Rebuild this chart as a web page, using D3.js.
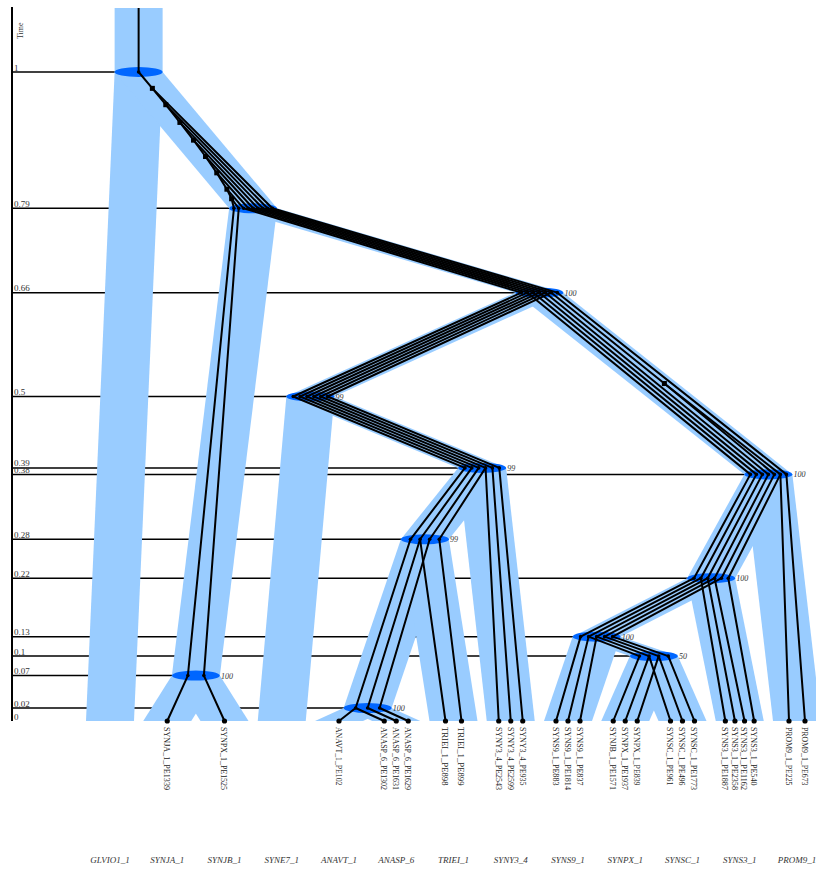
<!DOCTYPE html>
<html>
<head>
<meta charset="utf-8">
<script src="https://cdn.jsdelivr.net/npm/d3@7"></script>
<style>
  body { margin: 0; background: #fff; }
  text { font-family: "Liberation Serif", "DejaVu Serif", serif; }
</style>
</head>
<body>
<div id="container"></div>
<script>
let width = 816;
let height = 871;

// species tree (internal nodes named R, A..K)
let speciesNewick = "(GLVIO1_1,((SYNJA_1,SYNJB_1)B,((SYNE7_1,(((ANAVT_1,ANASP_6)G,TRIEI_1)F,SYNY3_4)E)D,(((SYNS9_1,(SYNPX_1,SYNSC_1)K)J,SYNS3_1)I,PROM9_1)H)C)A)R";
let speciesNodes = ['R', 'A', 'B', 'C', 'D', 'E', 'F', 'G', 'H', 'I', 'J', 'K'];
let speciesTimes = [1, 0.79, 0.07, 0.66, 0.5, 0.39, 0.28, 0.02, 0.38, 0.22, 0.13, 0.1];
let speciesSupport = ['', '', '100', '100', '99', '99', '99', '100', '100', '100', '100', '50'];
let timeTicks = [1, 0.79, 0.66, 0.5, 0.39, 0.38, 0.28, 0.22, 0.13, 0.1, 0.07, 0.02, 0];

// gene tree: id, parent, species node, duplication position on the branch above it
let geneRows = [
    ['root', null, 'R'],
    ['d1', 'root', 'A', 0.12], ['d2', 'd1', 'A', 0.24], ['d3', 'd2', 'A', 0.37],
    ['d4', 'd3', 'A', 0.5], ['d5', 'd4', 'A', 0.62], ['d6', 'd5', 'A', 0.74],
    ['d7', 'd6', 'A', 0.86], ['d8', 'd7', 'A', 0.93],
    ['1A', 'd8', 'A'], ['1B', '1A', 'B'], ['SYNJA_1_PE1339', '1B', 'SYNJA_1'],
    ['2A', 'd8', 'A'], ['2B', '2A', 'B'], ['SYNPX_1_PE1525', '2B', 'SYNJB_1'],
    ['3A', 'd7', 'A'], ['3C', '3A', 'C'], ['3D', '3C', 'D'], ['3E', '3D', 'E'], ['3F', '3E', 'F'], ['3G', '3F', 'G'],
    ['ANAVT_1_PE102', '3G', 'ANAVT_1'], ['ANASP_6_PE1302', '3G', 'ANASP_6'],
    ['4A', 'd6', 'A'], ['4C', '4A', 'C'], ['4D', '4C', 'D'], ['4E', '4D', 'E'], ['4F', '4E', 'F'], ['4G', '4F', 'G'],
    ['ANASP_6_PE1631', '4G', 'ANASP_6'], ['TRIEI_1_PE898', '4F', 'TRIEI_1'],
    ['4H', '4C', 'H'], ['4I', '4H', 'I'], ['4J', '4I', 'J'], ['SYNS9_1_PE883', '4J', 'SYNS9_1'],
    ['5A', 'd5', 'A'], ['5C', '5A', 'C'], ['5D', '5C', 'D'], ['5E', '5D', 'E'], ['5F', '5E', 'F'], ['5G', '5F', 'G'],
    ['ANASP_6_PE1629', '5G', 'ANASP_6'],
    ['5H', '5C', 'H'], ['5I', '5H', 'I'], ['5J', '5I', 'J'], ['SYNS9_1_PE1814', '5J', 'SYNS9_1'],
    ['5K', '5J', 'K'], ['SYNJB_1_PE1571', '5K', 'SYNPX_1'], ['SYNS3_1_PE1887', '5I', 'SYNS3_1'],
    ['6A', 'd4', 'A'], ['6C', '6A', 'C'], ['6D', '6C', 'D'], ['6E', '6D', 'E'], ['6F', '6E', 'F'],
    ['TRIEI_1_PE899', '6F', 'TRIEI_1'], ['SYNY3_4_PE2543', '6E', 'SYNY3_4'],
    ['6H', '6C', 'H'], ['6I', '6H', 'I'], ['6J', '6I', 'J'], ['SYNS9_1_PE837', '6J', 'SYNS9_1'],
    ['6K', '6J', 'K'], ['SYNPX_1_PE1937', '6K', 'SYNPX_1'], ['SYNSC_1_PE961', '6K', 'SYNSC_1'],
    ['SYNS3_1_PE2358', '6I', 'SYNS3_1'],
    ['7A', 'd3', 'A'], ['7C', '7A', 'C'], ['7D', '7C', 'D'], ['7E', '7D', 'E'], ['SYNY3_4_PE2599', '7E', 'SYNY3_4'],
    ['7H', '7C', 'H'], ['7I', '7H', 'I'], ['7J', '7I', 'J'], ['7K', '7J', 'K'],
    ['SYNPX_1_PE839', '7K', 'SYNPX_1'], ['SYNSC_1_PE496', '7K', 'SYNSC_1'], ['SYNS3_1_PE1162', '7I', 'SYNS3_1'],
    ['8A', 'd2', 'A'], ['8C', '8A', 'C'], ['8D', '8C', 'D'], ['8E', '8D', 'E'], ['SYNY3_4_PE935', '8E', 'SYNY3_4'],
    ['d9', '8C', 'H', 0.5],
    ['8aH', 'd9', 'H'], ['8aI', '8aH', 'I'], ['8aJ', '8aI', 'J'], ['8aK', '8aJ', 'K'], ['SYNSC_1_PE1773', '8aK', 'SYNSC_1'],
    ['8bH', 'd9', 'H'], ['8bI', '8bH', 'I'], ['SYNS3_1_PE540', '8bI', 'SYNS3_1'], ['PROM9_1_PE225', '8bH', 'PROM9_1'],
    ['9A', 'd1', 'A'], ['9C', '9A', 'C'], ['9H', '9C', 'H'], ['PROM9_1_PE673', '9H', 'PROM9_1']
];

let tubeHalf = 24;
let tubeColor = '#99ccff';
let nodeColor = '#0066ff';
let topY = 8;

function parseNewick(s) {
    let i = 0;
    function node() {
        let n = { children: [] };
        if (s[i] == '(') {
            i++;
            n.children.push(node());
            while (s[i] == ',') { i++; n.children.push(node()); }
            i++;
        }
        let j = i;
        while (i < s.length && !',();'.includes(s[i])) i++;
        n.name = s.slice(j, i);
        if (!n.children.length) delete n.children;
        return n;
    }
    return node();
}

let svg = d3.select("#container")
    .append("svg")
    .attr("width", width)
    .attr("height", height);

let sp = d3.hierarchy(parseNewick(speciesNewick));
let spLeaves = sp.leaves();

let x = d3.scaleLinear().domain([0, spLeaves.length - 1]).range([110, 797]);
let y = d3.scaleLinear().domain([0, 1]).range([721, 72]);

spLeaves.forEach((d, i) => { d.slot = i; d.lo = i; d.hi = i; });
sp.eachAfter(d => {
    if (d.children) {
        d.lo = d.children[0].lo;
        d.hi = d.children[1].hi;
        d.slot = (d.children[0].hi + d.children[1].lo) / 2;
    }
});
let spByName = {};
sp.each(d => {
    let k = speciesNodes.indexOf(d.data.name);
    d.t = k >= 0 ? speciesTimes[k] : 0;
    d.support = k >= 0 ? speciesSupport[k] : '';
    d.x = x(d.slot);
    d.y = y(d.t);
    spByName[d.data.name] = d;
});

// time axis
svg.append('line')
    .attr('x1', 12).attr('x2', 12)
    .attr('y1', topY - 1).attr('y2', y(0))
    .attr('stroke', '#000').attr('stroke-width', 2);

svg.selectAll('.timeLine')
    .data(sp.descendants().filter(d => d.children))
    .enter()
    .append('line')
    .attr('class', 'timeLine')
    .attr('x1', 12).attr('x2', d => d.x)
    .attr('y1', d => d.y).attr('y2', d => d.y)
    .attr('stroke', '#000').attr('stroke-width', 1.5);

svg.selectAll('.tick')
    .data(timeTicks)
    .enter()
    .append('text')
    .attr('class', 'tick')
    .attr('x', 14)
    .attr('y', d => y(d) - 1.5)
    .attr('font-size', 9)
    .attr('fill', '#333')
    .text(d => d);

svg.append('text')
    .attr('transform', 'translate(23,39) rotate(-90)')
    .attr('font-size', 8)
    .attr('fill', '#333')
    .text('Time');

// species tubes
svg.append('rect')
    .attr('x', sp.x - tubeHalf).attr('y', topY)
    .attr('width', tubeHalf * 2).attr('height', sp.y - topY)
    .attr('fill', tubeColor);

svg.selectAll('.tube')
    .data(sp.descendants().filter(d => d.parent))
    .enter()
    .append('polygon')
    .attr('class', 'tube')
    .attr('fill', tubeColor)
    .attr('points', d => {
        let p = d.parent;
        return [[p.x - tubeHalf, p.y], [p.x + tubeHalf, p.y],
                [d.x + tubeHalf, d.y], [d.x - tubeHalf, d.y]].join(' ');
    });

svg.selectAll('.spNode')
    .data(sp.descendants().filter(d => d.children))
    .enter()
    .append('ellipse')
    .attr('class', 'spNode')
    .attr('cx', d => d.x).attr('cy', d => d.y)
    .attr('rx', tubeHalf).attr('ry', 5)
    .attr('fill', nodeColor);

svg.selectAll('.support')
    .data(sp.descendants().filter(d => d.support))
    .enter()
    .append('text')
    .attr('class', 'support')
    .attr('x', d => d.x + tubeHalf + 1)
    .attr('y', d => d.y + 3)
    .attr('font-size', 8)
    .attr('font-style', 'italic')
    .attr('fill', '#333')
    .text(d => d.support);

svg.selectAll('.spLabel')
    .data(spLeaves)
    .enter()
    .append('text')
    .attr('class', 'spLabel')
    .attr('x', d => d.x)
    .attr('y', 863)
    .attr('text-anchor', 'middle')
    .attr('font-size', 9)
    .attr('font-style', 'italic')
    .attr('fill', '#333')
    .text(d => d.data.name);

// gene tree
let gene = d3.stratify()
    .id(d => d[0])
    .parentId(d => d[1])(geneRows);

let order = [];
gene.eachBefore(d => order.push(d));

let counts = {};
order.forEach(d => {
    if (d.data[3] == null) {
        let s = d.data[2];
        d.idx = counts[s] || 0;
        counts[s] = d.idx + 1;
    }
});
order.forEach(d => {
    if (d.data[3] == null) {
        let s = spByName[d.data[2]];
        let n = counts[d.data[2]];
        d.x = s.x - tubeHalf + (d.idx + 1) * tubeHalf * 2 / (n + 1);
        d.y = s.y;
    }
});

function targets(d) {
    return d.children.flatMap(c => c.data[3] == null ? [c] : targets(c));
}
order.forEach(d => {
    if (d.data[3] != null) {
        let s = spByName[d.data[2]];
        let p = s.parent;
        d.y = y(p.t + d.data[3] * (s.t - p.t));
        let tx = d3.mean(targets(d), c => c.x);
        let par = d.parent;
        d.x = par.x + (tx - par.x) * (d.y - par.y) / (s.y - par.y);
    }
});

svg.append('line')
    .attr('x1', gene.x).attr('x2', gene.x)
    .attr('y1', topY).attr('y2', gene.y)
    .attr('stroke', '#000').attr('stroke-width', 2);

svg.selectAll('.geneLink')
    .data(gene.links())
    .enter()
    .append('line')
    .attr('class', 'geneLink')
    .attr('x1', d => d.source.x).attr('y1', d => d.source.y)
    .attr('x2', d => d.target.x).attr('y2', d => d.target.y)
    .attr('stroke', '#000').attr('stroke-width', 2)
    .attr('stroke-linecap', 'round');

svg.selectAll('.geneSpec')
    .data(order.filter(d => d.children && d.data[3] == null))
    .enter()
    .append('circle')
    .attr('class', 'geneSpec')
    .attr('cx', d => d.x).attr('cy', d => d.y)
    .attr('r', 1.8)
    .attr('fill', '#000');

svg.selectAll('.geneDup')
    .data(order.filter(d => d.data[3] != null))
    .enter()
    .append('rect')
    .attr('class', 'geneDup')
    .attr('x', d => d.x - 2.5).attr('y', d => d.y - 2.5)
    .attr('width', 5).attr('height', 5)
    .attr('fill', '#000');

let geneLeaves = order.filter(d => !d.children);

svg.selectAll('.geneLeaf')
    .data(geneLeaves)
    .enter()
    .append('circle')
    .attr('class', 'geneLeaf')
    .attr('cx', d => d.x).attr('cy', d => d.y)
    .attr('r', 2.6)
    .attr('fill', '#000');

svg.selectAll('.geneLabel')
    .data(geneLeaves)
    .enter()
    .append('text')
    .attr('class', 'geneLabel')
    .attr('transform', d => 'translate(' + d.x + ',' + (d.y + 6) + ') rotate(90)')
    .attr('dy', '0.35em')
    .attr('font-size', 9)
    .attr('fill', '#222')
    .attr('textLength', d => d.id.length * 4.5)
    .attr('lengthAdjust', 'spacingAndGlyphs')
    .text(d => d.id);
</script>
</body>
</html>
